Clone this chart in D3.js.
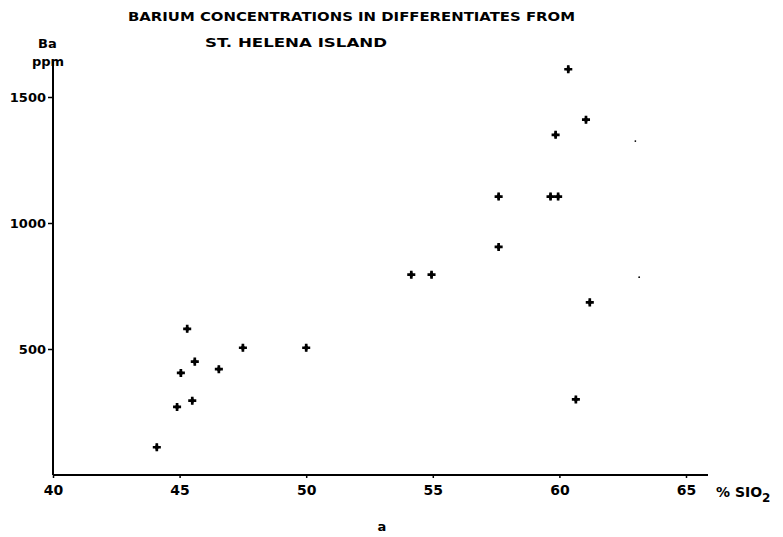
<!DOCTYPE html>
<html><head><meta charset="utf-8">
<script src="https://cdn.jsdelivr.net/npm/d3@7"></script>
<style>body{margin:0;background:#fff}svg{display:block}text{font-family:"DejaVu Sans",sans-serif;fill:#000}</style>
</head><body><svg id="c" width="783" height="537"></svg>
<script>
const sio2 = [44.1, 44.9, 45.05, 45.3, 45.5, 45.6, 46.55, 47.5, 50.0, 54.15, 54.95, 57.6, 57.6, 59.65, 59.95, 59.85, 60.35, 61.05, 61.2, 60.65];
const ba   = [110, 270, 405, 580, 295, 450, 420, 505, 505, 795, 795, 1105, 905, 1105, 1105, 1350, 1610, 1410, 685, 300];
const specksSio2 = [63.0, 63.15];
const specksBa = [1325, 785];
const xTicks = [40, 45, 50, 55, 60, 65];
const yTicks = [500, 1000, 1500];

const svg = d3.select("#c");
const x = d3.scaleLinear().domain([40, 65]).range([53, 686]);
const y = d3.scaleLinear().domain([0, 1500]).range([475, 97]);

// axes
const xAxis = d3.axisBottom(x).tickValues(xTicks).tickSize(3).tickPadding(4).tickFormat(d3.format("d"));
const gx = svg.append("g").attr("transform", "translate(0,475)").call(xAxis);
gx.select(".domain").attr("d", `M${x(40)},0H708`).attr("stroke-width", 2.2).attr("stroke", "#000");
gx.selectAll(".tick line").attr("stroke", "#000").attr("stroke-width", 1.5);
gx.selectAll(".tick text").attr("font-size", 14).attr("font-weight", "bold").attr("dy", "0.9em");

const yAxis = d3.axisLeft(y).tickValues(yTicks).tickSize(5).tickPadding(2).tickFormat(d3.format("d"));
const gy = svg.append("g").attr("transform", "translate(53,0)").call(yAxis);
gy.select(".domain").attr("d", `M0,${y(0)}V62`).attr("stroke-width", 2).attr("stroke", "#000");
gy.selectAll(".tick line").attr("stroke", "#000").attr("stroke-width", 1.5);
gy.selectAll(".tick text").attr("font-size", 13).attr("font-weight", "bold");

// labels
svg.append("text").attr("x", 38).attr("y", 48).attr("font-size", 13).attr("font-weight", "bold").text("Ba");
svg.append("text").attr("x", 32).attr("y", 66).attr("font-size", 13).attr("font-weight", "bold").text("ppm");
svg.append("text").attr("x", 128).attr("y", 21).attr("font-size", 13).attr("font-weight", "bold").attr("textLength", 447).attr("lengthAdjust", "spacingAndGlyphs").text("BARIUM CONCENTRATIONS IN DIFFERENTIATES FROM");
svg.append("text").attr("x", 205).attr("y", 47).attr("font-size", 13).attr("font-weight", "bold").attr("textLength", 182).attr("lengthAdjust", "spacingAndGlyphs").text("ST. HELENA ISLAND");
const xl = svg.append("text").attr("x", 716).attr("y", 497).attr("font-size", 14).attr("font-weight", "bold");
xl.append("tspan").text("% SIO");
xl.append("tspan").attr("font-size", 12).attr("dy", 5).text("2");
svg.append("text").attr("x", 382).attr("y", 531).attr("font-size", 13).attr("font-weight", "bold").attr("text-anchor", "middle").text("a");

// points
const pts = sio2.map((v, i) => ({x: v, y: ba[i]}));
svg.append("g").selectAll("path").data(pts).join("path")
  .attr("transform", d => `translate(${x(d.x)},${y(d.y)})`)
  .attr("d", d3.symbol(d3.symbolCross, 36))
  .attr("fill", "#000");
svg.append("g").selectAll("path").data(pts).join("path")
  .attr("transform", d => `translate(${x(d.x)},${y(d.y)})`)
  .attr("d", d3.symbol(d3.symbolDiamond, 18))
  .attr("fill", "#000");
svg.append("g").selectAll("circle").data(specksSio2.map((v, i) => ({x: v, y: specksBa[i]}))).join("circle")
  .attr("cx", d => x(d.x)).attr("cy", d => y(d.y)).attr("r", 0.9).attr("fill", "#000");
</script></body></html>
